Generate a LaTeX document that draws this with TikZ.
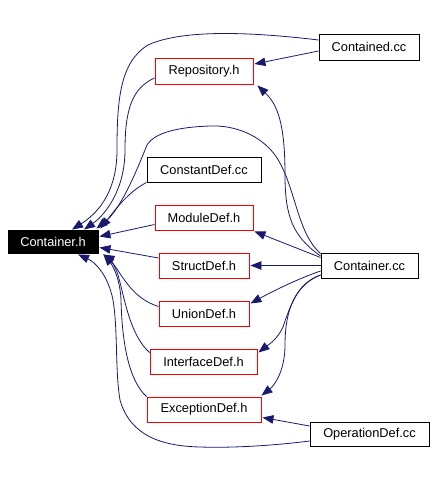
\documentclass[tikz,border=0pt]{standalone}
\usepackage{fontspec}
\setmainfont{Liberation Sans}
\usetikzlibrary{arrows.meta}
\definecolor{edgeblue}{RGB}{25,25,112}
\begin{document}
\begin{tikzpicture}[x=1pt,y=-1pt,
  box/.style={draw=black,line width=0.9pt,fill=white,inner sep=0pt,font=\fontsize{12.8}{15}\selectfont},
  redbox/.style={box,draw=red},
  rootbox/.style={box,fill=black,text=white},
  edge/.style={draw=edgeblue,line width=0.8pt,-{Triangle[length=11pt,width=8.5pt]}}]
\useasboundingbox (0,0) rectangle (436,479);
\node[rootbox,minimum width=90pt,minimum height=23pt] (ch) at (53,241.5) {Container.h};
\node[redbox,minimum width=98pt,minimum height=26pt] (rep) at (204,71) {Repository.h};
\node[box,minimum width=114pt,minimum height=25pt] (cdef) at (204,169.5) {ConstantDef.cc};
\node[redbox,minimum width=98pt,minimum height=25pt] (mod) at (204,217.5) {ModuleDef.h};
\node[redbox,minimum width=90pt,minimum height=25pt] (str) at (204,265.5) {StructDef.h};
\node[redbox,minimum width=90pt,minimum height=25pt] (uni) at (204,313.5) {UnionDef.h};
\node[redbox,minimum width=107pt,minimum height=25pt] (itf) at (203.5,361.5) {InterfaceDef.h};
\node[redbox,minimum width=114pt,minimum height=25pt] (exc) at (204,409.5) {ExceptionDef.h};
\node[box,minimum width=100pt,minimum height=26pt] (contd) at (369,47) {Contained.cc};
\node[box,minimum width=97pt,minimum height=25pt] (ccc) at (369.5,265.5) {Container.cc};
\node[box,minimum width=119pt,minimum height=24pt] (opd) at (369.5,434) {OperationDef.cc};
% Contained.cc
\draw[edge] ([yshift=-4pt]contd.west) -- ([xshift=1pt,yshift=7pt]rep.east);
\draw[edge] ([yshift=7pt]contd.west) .. controls (260,33) and (185,28) .. (148,45)
  .. controls (120,62) and (117,100) .. (117,150)
  .. controls (117,195) and (95,215) .. ([xshift=19pt]ch.north);
% Repository.h
\draw[edge] ([yshift=-7pt]rep.west) .. controls (132,88) and (125,110) .. (125,150)
  .. controls (125,190) and (105,215) .. ([xshift=31pt]ch.north);
% Container.cc
\draw[edge] ([yshift=9.5pt]ccc.west) .. controls (292,236) and (285,215) .. (285,175)
  .. controls (285,125) and (278,105) .. ([xshift=4pt,yshift=-1pt]rep.south east);
\draw[edge] ([yshift=12pt]ccc.west) .. controls (296,232) and (296,185) .. (275,155)
  .. controls (260,135) and (235,125) .. (210,126)
  .. controls (180,127) and (155,132) .. (147,145)
  .. controls (135,175) and (120,210) .. ([xshift=-2pt,yshift=1pt]ch.north east);
\draw[edge] ([yshift=8pt]ccc.west) -- ([xshift=1pt,yshift=-1pt]mod.south east);
\draw[edge] (ccc.west) -- ([xshift=1pt]str.east);
\draw[edge] ([yshift=-5.5pt]ccc.west) .. controls (300,278) and (275,290) .. ([xshift=1pt,yshift=10pt]uni.east);
\draw[edge] ([yshift=-9.5pt]ccc.west) .. controls (300,282) and (292,300) .. (283,327)
  .. controls (277,340) and (268,345) .. ([xshift=1pt,yshift=9pt]itf.east);
\draw[edge] ([yshift=-9.5pt]ccc.west) .. controls (295,285) and (285,310) .. (285,345)
  .. controls (285,370) and (275,385) .. ([xshift=0pt,yshift=1pt]exc.north east);
% left column to Container.h
\draw[edge] (cdef.south west) .. controls (128,192) and (115,210) .. ([xshift=2pt,yshift=1pt]ch.north east);
\draw[edge] ([yshift=-7pt]mod.west) -- ([xshift=1pt,yshift=5pt]ch.east);
\draw[edge] ([yshift=7.5pt]str.west) -- ([xshift=1pt,yshift=-6pt]ch.east);
\draw[edge] ([yshift=7pt]uni.west) .. controls (130,298) and (120,270) .. ([xshift=5pt,yshift=-1pt]ch.south east);
\draw[edge] ([yshift=9pt]itf.west) .. controls (130,335) and (125,300) .. (118,275)
  .. controls (114,263) and (108,257) .. ([xshift=5pt,yshift=-1pt]ch.south east);
\draw[edge] (exc.north west) .. controls (128,380) and (122,340) .. (121,300)
  .. controls (120,275) and (110,262) .. ([xshift=5pt,yshift=-1pt]ch.south east);
% OperationDef.cc
\draw[edge] ([yshift=8pt]opd.west) -- ([xshift=1pt,yshift=-8pt]exc.east);
\draw[edge] ([yshift=-7pt]opd.west) .. controls (270,446) and (230,448) .. (200,447)
  .. controls (160,446) and (130,435) .. (120,400)
  .. controls (115,370) and (118,330) .. (113,300)
  .. controls (108,275) and (95,262) .. ([xshift=25pt,yshift=-1pt]ch.south);
\end{tikzpicture}
\end{document}
